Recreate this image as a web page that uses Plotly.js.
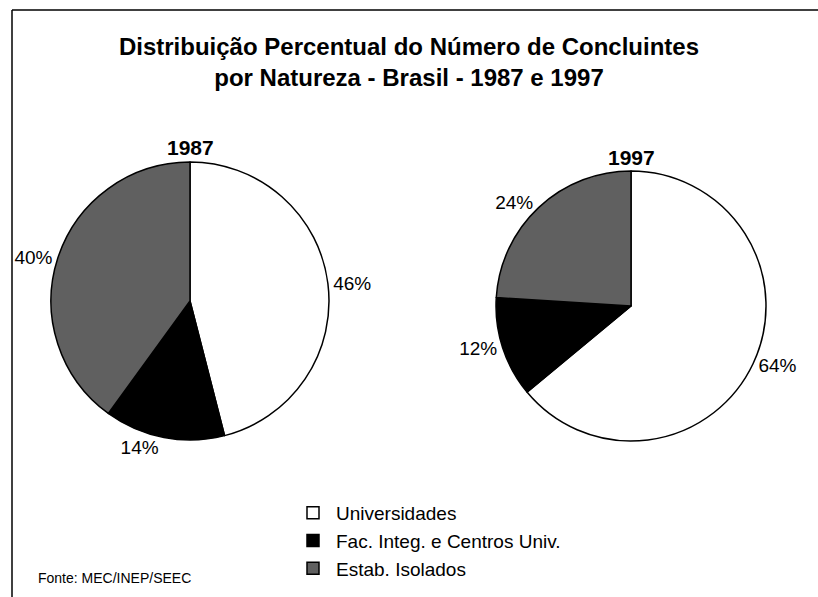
<!DOCTYPE html>
<html>
<head>
<meta charset="utf-8">
<script src="https://cdn.plot.ly/plotly-3.0.1.min.js"></script>
<style>html,body{margin:0;padding:0;background:#fff;}#chart{width:818px;height:597px;}</style>
</head>
<body>
<div id="chart"></div>
<script>
var categories = ["Universidades", "Fac. Integ. e Centros Univ.", "Estab. Isolados"];
var values1987 = [46, 14, 40];
var values1997 = [64, 12, 24];
var years = ["1987", "1997"];
var sliceColors = ["#ffffff", "#000000", "#606060"];
var titleLines = ["Distribuição Percentual do Número de Concluintes", "por Natureza - Brasil - 1987 e 1997"];
var sourceText = "Fonte: MEC/INEP/SEEC";

var W = 818, H = 597;
var FONT = "Liberation Sans, Arial, sans-serif";

function pieTrace(vals, cx, cy, r) {
  return {
    type: "pie",
    labels: categories,
    values: vals,
    sort: false,
    direction: "clockwise",
    rotation: 0,
    marker: {colors: sliceColors, line: {color: "#000000", width: 1.5}},
    textposition: "outside",
    texttemplate: "%{value}%",
    textfont: {family: FONT, size: 19, color: "#000000"},
    outsidetextfont: {family: FONT, size: 19, color: "#000000"},
    hoverinfo: "label+value",
    domain: {x: [(cx - r) / W, (cx + r) / W], y: [1 - (cy + r) / H, 1 - (cy - r) / H]}
  };
}

var data = [
  pieTrace(values1987, 190, 301, 139),
  pieTrace(values1997, 631, 306, 135)
];

var layout = {
  width: W, height: H,
  margin: {l: 0, r: 0, t: 0, b: 0},
  paper_bgcolor: "#ffffff",
  plot_bgcolor: "#ffffff",
  font: {family: FONT, color: "#000000"},
  title: {
    text: "<b>" + titleLines.join("<br>") + "</b>",
    font: {family: FONT, size: 24, color: "#000000"},
    x: 0.5, xanchor: "center", y: 1 - 55 / H, yanchor: "top"
  },
  showlegend: true,
  legend: {
    x: 290 / W, xanchor: "left",
    y: 1 - 494 / H, yanchor: "top",
    font: {family: FONT, size: 19, color: "#000000"},
    bgcolor: "rgba(0,0,0,0)",
    itemwidth: 36,
    traceorder: "normal"
  },
  annotations: [
    {text: "<b>" + years[0] + "</b>", xref: "paper", yref: "paper", x: 190 / W, y: 1 - 147 / H,
     xanchor: "center", yanchor: "middle", showarrow: false, font: {family: FONT, size: 21, color: "#000000"}},
    {text: "<b>" + years[1] + "</b>", xref: "paper", yref: "paper", x: 631 / W, y: 1 - 157 / H,
     xanchor: "center", yanchor: "middle", showarrow: false, font: {family: FONT, size: 21, color: "#000000"}},
    {text: sourceText, xref: "paper", yref: "paper", x: 36 / W, y: 1 - 578 / H,
     xanchor: "left", yanchor: "middle", showarrow: false, font: {family: FONT, size: 14, color: "#000000"}}
  ],
  shapes: [
    {type: "line", xref: "paper", yref: "paper", x0: 12 / W, y0: 0, x1: 12 / W, y1: 1 - 10 / H,
     line: {color: "#000000", width: 1.5}},
    {type: "line", xref: "paper", yref: "paper", x0: 12 / W, y0: 1 - 10 / H, x1: 1, y1: 1 - 10 / H,
     line: {color: "#000000", width: 1.5}}
  ]
};

Plotly.newPlot("chart", data, layout, {displayModeBar: false, staticPlot: true});
</script>
</body>
</html>
